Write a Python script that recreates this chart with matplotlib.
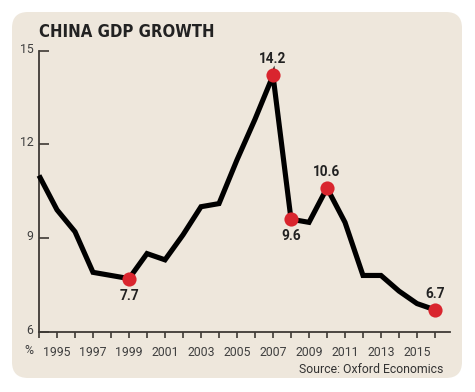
import matplotlib
matplotlib.use("Agg")
import matplotlib.pyplot as plt
from matplotlib.patches import FancyBboxPatch
from matplotlib.transforms import ScaledTranslation

years = list(range(1994, 2017))
growth = [11.0, 9.9, 9.2, 7.9, 7.8, 7.7, 8.5, 8.3, 9.1, 10.0, 10.1, 11.5,
          12.8, 14.2, 9.6, 9.5, 10.6, 9.5, 7.8, 7.8, 7.3, 6.9, 6.7]
highlight_years = [1999, 2007, 2008, 2010, 2016]
highlight_pos = ["below", "above", "below", "above", "above"]
ytick_vals = [6, 9, 12, 15]
xtick_label_years = list(range(1995, 2016, 2))
title = "CHINA GDP GROWTH"
source = "Source: Oxford Economics"

BG = "#EEE7DC"
RED = "#D9252E"
AX = "#3E3A35"
TXT = "#3F3F3F"

body_font = ["Roboto", "DejaVu Sans"]

W, H, DPI = 475, 392, 100
fig = plt.figure(figsize=(W / DPI, H / DPI), dpi=DPI, facecolor="white")

panel = FancyBboxPatch((0.12, 0.14), 4.50, 3.66,
                       boxstyle="round,pad=0,rounding_size=0.16",
                       transform=fig.dpi_scale_trans, facecolor=BG,
                       edgecolor="none", zorder=-10)
fig.add_artist(panel)

ax = fig.add_axes([39 / W, (H - 331.7) / H, (450 - 39) / W, (331.7 - 50.5) / H])
ax.set_zorder(1)
ax.set_facecolor("none")
ax.set_xlim(1994, 1994 + (450 - 39) / 18.0)
ax.set_ylim(6, 15)

ax.plot(years, growth, color="black", lw=3.7, solid_joinstyle="miter",
        solid_capstyle="butt", zorder=3, clip_on=False)

for yr, pos in zip(highlight_years, highlight_pos):
    v = growth[years.index(yr)]
    ax.plot([yr], [v], "o", ms=10.2, color=RED, mec="none", zorder=4, clip_on=False)
    dy = -17 if pos == "below" else 16
    ax.annotate(f"{v:.1f}", (yr, v), xytext=(0, dy * 0.72), textcoords="offset points",
                ha="center", va="center", fontsize=9.8, fontweight="bold",
                color="#222222", family=body_font, zorder=5)

for s in ["top", "right"]:
    ax.spines[s].set_visible(False)
for s in ["left", "bottom"]:
    ax.spines[s].set_color(AX)
    ax.spines[s].set_linewidth(1.3)

ax.set_yticks(ytick_vals)
ax.set_yticklabels([str(v) for v in ytick_vals])
ax.tick_params(axis="y", direction="in", length=7.5, width=1.2, color=AX,
               pad=4, labelsize=8.8, labelcolor=TXT)
for lbl in ax.get_yticklabels():
    lbl.set_family(body_font)
    lbl.set_transform(lbl.get_transform() + ScaledTranslation(0, 2 / 72, fig.dpi_scale_trans))

ax.set_xticks(years)
ax.set_xticklabels([str(y) if y in xtick_label_years else "" for y in years])
ax.tick_params(axis="x", direction="out", length=4.5, width=1.2, color=AX,
               pad=6, labelsize=8.8, labelcolor=TXT)
for lbl in ax.get_xticklabels():
    lbl.set_family(body_font)

fig.text(39 / W, (H - 36.7) / H, title, ha="left", va="baseline",
         fontsize=12, fontweight="bold", color="#222222",
         family=["DejaVu Sans"], fontstretch="condensed")
fig.text(28.5 / W, (H - 354) / H, "%", ha="center", va="baseline",
         fontsize=8.8, color=TXT, family=body_font)
fig.text(443 / W, (H - 373) / H, source, ha="right", va="baseline",
         fontsize=8.8, color="#333333", family=body_font)

fig.savefig("out.png", dpi=DPI, facecolor="white")
